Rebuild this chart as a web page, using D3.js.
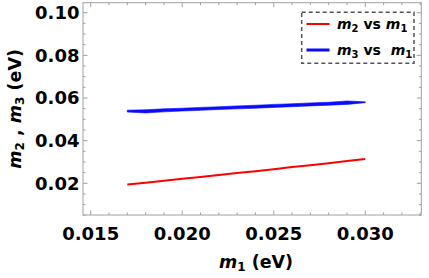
<!DOCTYPE html>
<html>
<head>
<meta charset="utf-8">
<script src="https://cdn.jsdelivr.net/npm/d3@7"></script>
<style>
  html, body { margin: 0; padding: 0; background: #fff; }
  svg { display: block; font-family: "DejaVu Sans", Verdana, sans-serif; }
  text { white-space: pre; }
  .tick-label { font-size: 18px; font-weight: bold; fill: #000; }
  .axis-title { font-size: 17.5px; font-weight: bold; fill: #000; }
  .legend-text { font-size: 14px; font-weight: bold; fill: #000; }
</style>
</head>
<body>
<svg id="chart" width="429" height="278"></svg>
<script>
// m1 values (eV) along the x axis
var m1Values = [0.017, 0.018, 0.019, 0.020, 0.021, 0.022, 0.023, 0.024, 0.025, 0.026, 0.027, 0.028, 0.029, 0.030];
// m2 vs m1 (red line)
var m2Values = [0.0194, 0.0203, 0.0212, 0.0221, 0.0230, 0.0239, 0.0248, 0.0257, 0.0266, 0.0276, 0.0285, 0.0294, 0.0304, 0.0314];
// m3 vs m1 (blue band): lower and upper edges
var m3Lower = [0.0534, 0.0530, 0.0535, 0.0539, 0.0542, 0.0546, 0.0549, 0.0552, 0.0556, 0.0559, 0.0563, 0.0566, 0.0570, 0.0578];
var m3Upper = [0.0543, 0.0545, 0.0549, 0.0552, 0.0556, 0.0559, 0.0563, 0.0566, 0.0570, 0.0573, 0.0577, 0.0580, 0.0586, 0.0582];

var xTicks = [0.015, 0.020, 0.025, 0.030];
var yTicks = [0.02, 0.04, 0.06, 0.08, 0.10];

var svg = d3.select("#chart");

var frame = {left: 83, right: 421.3, top: 2.7, bottom: 215};

var x = d3.scaleLinear().domain([0.01458, 0.03306]).range([frame.left, frame.right]);
var y = d3.scaleLinear().domain([0.00513, 0.10469]).range([frame.bottom, frame.top]);

var frameColor = "#a0a0a0";

// frame
svg.append("rect")
    .attr("x", frame.left)
    .attr("y", frame.top)
    .attr("width", frame.right - frame.left)
    .attr("height", frame.bottom - frame.top)
    .attr("fill", "none")
    .attr("stroke", frameColor)
    .attr("stroke-width", 1);

// ticks, inward on all four sides
var xMinor = d3.range(15, 34).map(function(d) { return d / 1000; });
var yMinor = d3.range(1, 21).map(function(d) { return d * 0.005; });

function isMajor(v, list) {
    return list.some(function(t) { return Math.abs(t - v) < 1e-9; });
}

xMinor.forEach(function(v) {
    var len = isMajor(v, xTicks) ? 4.5 : 2.5;
    var px = x(v);
    svg.append("line").attr("x1", px).attr("x2", px)
        .attr("y1", frame.bottom).attr("y2", frame.bottom - len)
        .attr("stroke", frameColor);
    svg.append("line").attr("x1", px).attr("x2", px)
        .attr("y1", frame.top).attr("y2", frame.top + len)
        .attr("stroke", frameColor);
});

yMinor.forEach(function(v) {
    var len = isMajor(v, yTicks) ? 4.5 : 2.5;
    var py = y(v);
    svg.append("line").attr("x1", frame.left).attr("x2", frame.left + len)
        .attr("y1", py).attr("y2", py)
        .attr("stroke", frameColor);
    svg.append("line").attr("x1", frame.right).attr("x2", frame.right - len)
        .attr("y1", py).attr("y2", py)
        .attr("stroke", frameColor);
});

// tick labels
svg.selectAll(".xlab").data(xTicks).enter().append("text")
    .attr("class", "tick-label")
    .attr("x", function(d) { return x(d); })
    .attr("y", 239.5)
    .attr("text-anchor", "middle")
    .text(function(d) { return d3.format(".3f")(d); });

svg.selectAll(".ylab").data(yTicks).enter().append("text")
    .attr("class", "tick-label")
    .attr("x", 79.5)
    .attr("y", function(d) { return y(d) + 6.5; })
    .attr("text-anchor", "end")
    .text(function(d) { return d3.format(".2f")(d); });

// blue band m3
var band = m1Values.map(function(d, i) { return {m1: d, lo: m3Lower[i], hi: m3Upper[i]}; });
svg.append("path")
    .datum(band)
    .attr("d", d3.area()
        .x(function(d) { return x(d.m1); })
        .y0(function(d) { return y(d.lo); })
        .y1(function(d) { return y(d.hi); }))
    .attr("fill", "#0a0aff")
    .attr("stroke", "#0a0aff")
    .attr("stroke-width", 0.6)
    .attr("stroke-linejoin", "round");

// red line m2
var red = m1Values.map(function(d, i) { return {m1: d, m2: m2Values[i]}; });
svg.append("path")
    .datum(red)
    .attr("d", d3.line()
        .x(function(d) { return x(d.m1); })
        .y(function(d) { return y(d.m2); }))
    .attr("fill", "none")
    .attr("stroke", "#ff0000")
    .attr("stroke-width", 2);

// axis titles
var xt = svg.append("text")
    .attr("class", "axis-title")
    .attr("x", 256)
    .attr("y", 268)
    .attr("text-anchor", "middle");
xt.append("tspan").attr("font-style", "italic").text("m");
xt.append("tspan").attr("font-size", "12px").attr("dy", 3).text("1");
xt.append("tspan").attr("dy", -3).text(" (eV)");

var yt = svg.append("text")
    .attr("class", "axis-title")
    .attr("transform", "translate(21," + ((frame.top + frame.bottom) / 2) + ") rotate(-90)")
    .attr("text-anchor", "middle");
yt.append("tspan").attr("font-style", "italic").text("m");
yt.append("tspan").attr("font-size", "12px").attr("dy", 3).text("2");
yt.append("tspan").attr("dy", -3).text(" , ");
yt.append("tspan").attr("font-style", "italic").text("m");
yt.append("tspan").attr("font-size", "12px").attr("dy", 3).text("3");
yt.append("tspan").attr("dy", -3).text(" (eV)");

// legend
var legend = svg.append("g");
legend.append("rect")
    .attr("x", 301.7)
    .attr("y", 12.3)
    .attr("width", 112.3)
    .attr("height", 51)
    .attr("fill", "#fff")
    .attr("stroke", "#555")
    .attr("stroke-width", 1.5)
    .attr("stroke-dasharray", "4,3");

var legendItems = [
    {color: "#ff0000", width: 2, y: 24, sub: "2", gap: " vs "},
    {color: "#0a0aff", width: 3, y: 50, sub: "3", gap: " vs  "}
];

legendItems.forEach(function(item) {
    legend.append("line")
        .attr("x1", 306.5).attr("x2", 329.5)
        .attr("y1", item.y).attr("y2", item.y)
        .attr("stroke", item.color)
        .attr("stroke-width", item.width);
    var t = legend.append("text")
        .attr("class", "legend-text")
        .attr("x", 337)
        .attr("y", item.y + 5);
    t.append("tspan").attr("font-style", "italic").text("m");
    t.append("tspan").attr("font-size", "10px").attr("dy", 3).text(item.sub);
    t.append("tspan").attr("dy", -3).text(item.gap);
    t.append("tspan").attr("font-style", "italic").text("m");
    t.append("tspan").attr("font-size", "10px").attr("dy", 3).text("1");
});
</script>
</body>
</html>
